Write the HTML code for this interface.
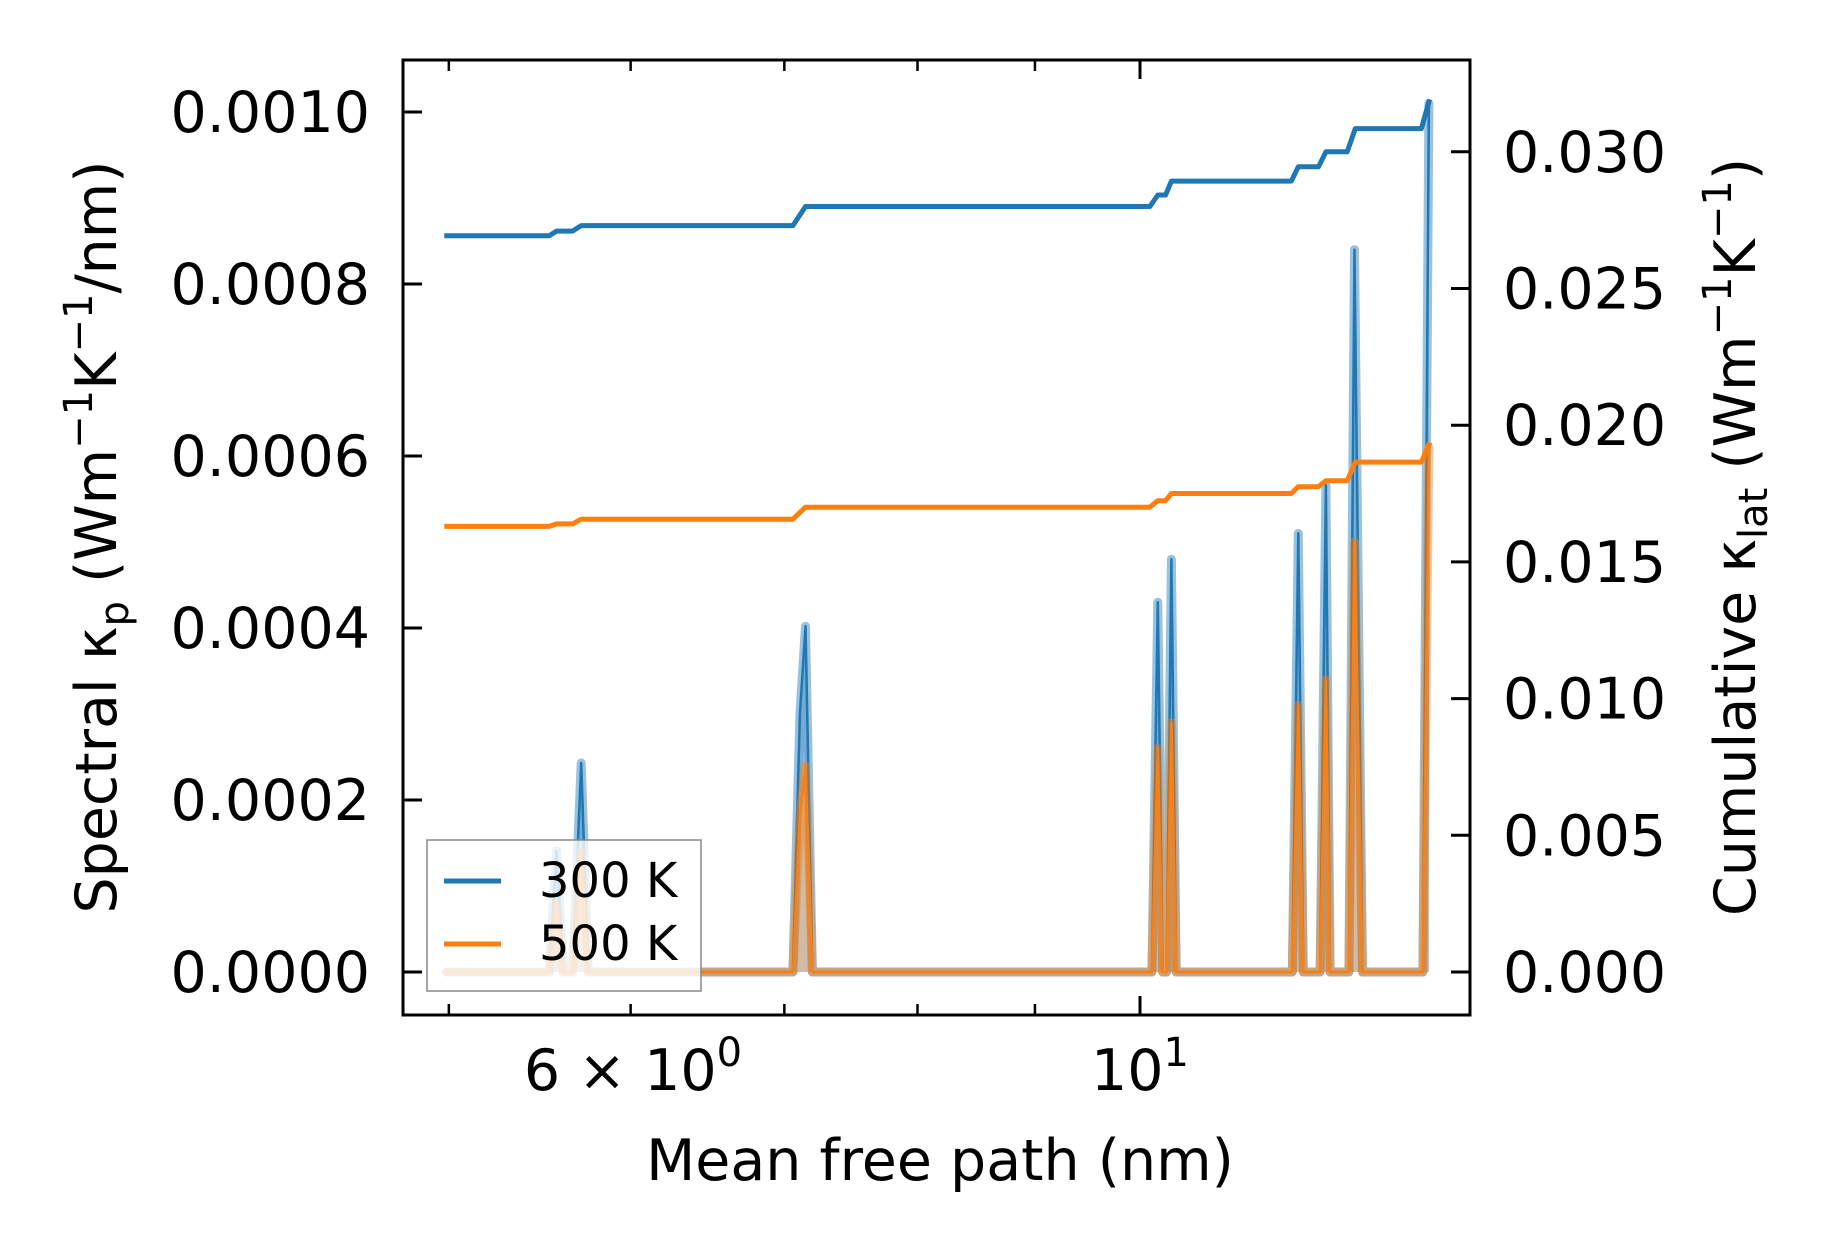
<!DOCTYPE html>
<html><head><meta charset="utf-8"><style>
html,body{margin:0;padding:0;background:#fff}
svg{display:block;font-family:"DejaVu Sans","Liberation Sans",sans-serif}
</style></head><body>
<svg id="chart" width="1827" height="1253" viewBox="0 0 1827 1253" xmlns="http://www.w3.org/2000/svg">
<rect width="1827" height="1253" fill="#fff"/>
<g id="plot"></g>
<g id="axes"></g>
</svg>
<script>
// Data
const cumX = [4.99,5.53,5.57,5.66,5.71,7.06,7.15,10.1,10.18,10.26,10.32,11.64,11.72,11.96,12.05,12.31,12.41,13.26,13.36];
const cum300 = [0.02693,0.02693,0.0271,0.0271,0.0273,0.0273,0.0280,0.0280,0.02842,0.02842,0.02893,0.02893,0.02945,0.02945,0.0300,0.0300,0.03085,0.03085,0.03183];
const cum500 = [0.0163,0.0163,0.01639,0.01639,0.01656,0.01656,0.0170,0.0170,0.01724,0.01724,0.0175,0.0175,0.01775,0.01775,0.01797,0.01797,0.01865,0.01865,0.01929];
const specX = [4.99,5.53,5.57,5.61,5.66,5.71,5.75,7.06,7.11,7.15,7.2,10.12,10.18,10.23,10.27,10.32,10.37,11.65,11.72,11.78,11.98,12.05,12.1,12.33,12.4,12.5,13.28,13.36];
const spec300 = [0,0,0.000141,0,0,0.000243,0,0,0.0003,0.000402,0,0,0.00043,0,0,0.00048,0,0,0.00051,0,0,0.000566,0,0,0.00084,0,0,0.00101];
const spec500 = [0,0,0.00008,0,0,0.00014,0,0,0.00018,0.00024,0,0,0.00026,0,0,0.00029,0,0,0.00031,0,0,0.00034,0,0,0.0005,0,0,0.00061];
const leftTicks = [0,0.0002,0.0004,0.0006,0.0008,0.0010];
const leftTickLabels = ["0.0000","0.0002","0.0004","0.0006","0.0008","0.0010"];
const rightTicks = [0,0.005,0.010,0.015,0.020,0.025,0.030];
const rightTickLabels = ["0.000","0.005","0.010","0.015","0.020","0.025","0.030"];
const xMinorTicks = [5,6,7,8,9];
const xMajorTicks = [10];

const L=403,R=1470,T=60,B=1015;
const X = v => 1140 + (Math.log10(v)-1)*2296;
const YL = v => 972 - v/0.0002*172;
const YR = v => 972 - v/0.005*136.7;
const NS="http://www.w3.org/2000/svg";
const plot=document.getElementById('plot'), axes=document.getElementById('axes');
function mk(tag,attrs,parent){const e=document.createElementNS(NS,tag);for(const k in attrs)e.setAttribute(k,attrs[k]);parent.appendChild(e);return e;}
function pts(xs,ys,f){return xs.map((x,i)=>X(x).toFixed(1)+','+f(ys[i]).toFixed(1)).join(' ');}

// spectral series
[[spec300,'#1f77b4','spectral-300k'],[spec500,'#ff7f0e','spectral-500k']].forEach(([ys,c,n])=>{
  const p=pts(specX,ys,YL);
  const fill=mk('polygon',{points:p+' '+X(specX[specX.length-1]).toFixed(1)+','+YL(0)+' '+X(specX[0]).toFixed(1)+','+YL(0),fill:c,'fill-opacity':0.3},plot);
  
  
  const thick=mk('polyline',{points:p,fill:'none',stroke:c,'stroke-opacity':0.45,'stroke-width':9,'stroke-linejoin':'round','stroke-linecap':'round'},plot);
  
  
  const thin=mk('polyline',{points:p,fill:'none',stroke:c,'stroke-width':2.5,'stroke-linejoin':'round'},plot);
  
  
});
// cumulative series
[[cum300,'#1f77b4','cumulative-300k'],[cum500,'#ff7f0e','cumulative-500k']].forEach(([ys,c,n])=>{
  const l=mk('polyline',{points:pts(cumX,ys,YR),fill:'none',stroke:c,'stroke-width':5,'stroke-linejoin':'round','stroke-linecap':'square'},plot);
  
  
});

// frame
const frame=mk('rect',{x:L,y:T,width:R-L,height:B-T,fill:'none',stroke:'#000','stroke-width':3},axes);



// left ticks
leftTicks.forEach((v,i)=>{
  const y=YL(v);
  mk('line',{x1:L,x2:L+19,y1:y,y2:y,stroke:'#000','stroke-width':3},axes);
  const t=mk('text',{x:370,y:y+20,'text-anchor':'end','font-size':57},axes);
  t.textContent=leftTickLabels[i];
  
  
});
// right ticks
rightTicks.forEach((v,i)=>{
  const y=YR(v);
  mk('line',{x1:R-19,x2:R,y1:y,y2:y,stroke:'#000','stroke-width':3},axes);
  const t=mk('text',{x:1503,y:y+20,'font-size':57},axes);
  t.textContent=rightTickLabels[i];
  
  
});
// x ticks (bottom and top)
xMinorTicks.forEach(v=>{const x=X(v);
  mk('line',{x1:x,x2:x,y1:B,y2:B-11,stroke:'#000','stroke-width':2.5},axes);
  mk('line',{x1:x,x2:x,y1:T,y2:T+11,stroke:'#000','stroke-width':2.5},axes);});
xMajorTicks.forEach(v=>{const x=X(v);
  mk('line',{x1:x,x2:x,y1:B,y2:B-19,stroke:'#000','stroke-width':3},axes);
  mk('line',{x1:x,x2:x,y1:T,y2:T+19,stroke:'#000','stroke-width':3},axes);});
</script>
<svg style="position:absolute;left:0;top:0" width="1827" height="1253" xmlns="http://www.w3.org/2000/svg" font-family="DejaVu Sans, Liberation Sans, sans-serif">
  <text x="633" y="1090" text-anchor="middle" font-size="57">6 × 10<tspan font-size="40" dy="-24">0</tspan></text>
  <text x="1140" y="1090" text-anchor="middle" font-size="57">10<tspan font-size="40" dy="-24">1</tspan></text>
  <text x="940" y="1180" text-anchor="middle" font-size="57">Mean free path (nm)</text>
  <text transform="translate(116,537) rotate(-90)" text-anchor="middle" font-size="57">Spectral κ<tspan font-size="40" dy="12">p</tspan><tspan dy="-12"> (Wm</tspan><tspan font-size="40" dy="-24">−1</tspan><tspan dy="24">K</tspan><tspan font-size="40" dy="-24">−1</tspan><tspan dy="24">/nm)</tspan></text>
  <text transform="translate(1755,537) rotate(-90)" text-anchor="middle" font-size="57">Cumulative κ<tspan font-size="40" dy="12">lat</tspan><tspan dy="-12"> (Wm</tspan><tspan font-size="40" dy="-24">−1</tspan><tspan dy="24">K</tspan><tspan font-size="40" dy="-24">−1</tspan><tspan dy="24">)</tspan></text>
  <g>
    <rect x="427" y="840" width="274" height="151" fill="#fff" fill-opacity="0.8" stroke="#888" stroke-width="1.5"/>
    <line x1="444" x2="501" y1="881" y2="881" stroke="#1f77b4" stroke-width="5"/>
    <text x="539" y="897" font-size="48">300 K</text>
    <line x1="444" x2="501" y1="944" y2="944" stroke="#ff7f0e" stroke-width="5"/>
    <text x="539" y="960" font-size="48">500 K</text>
  </g>
</svg>
</body></html>
